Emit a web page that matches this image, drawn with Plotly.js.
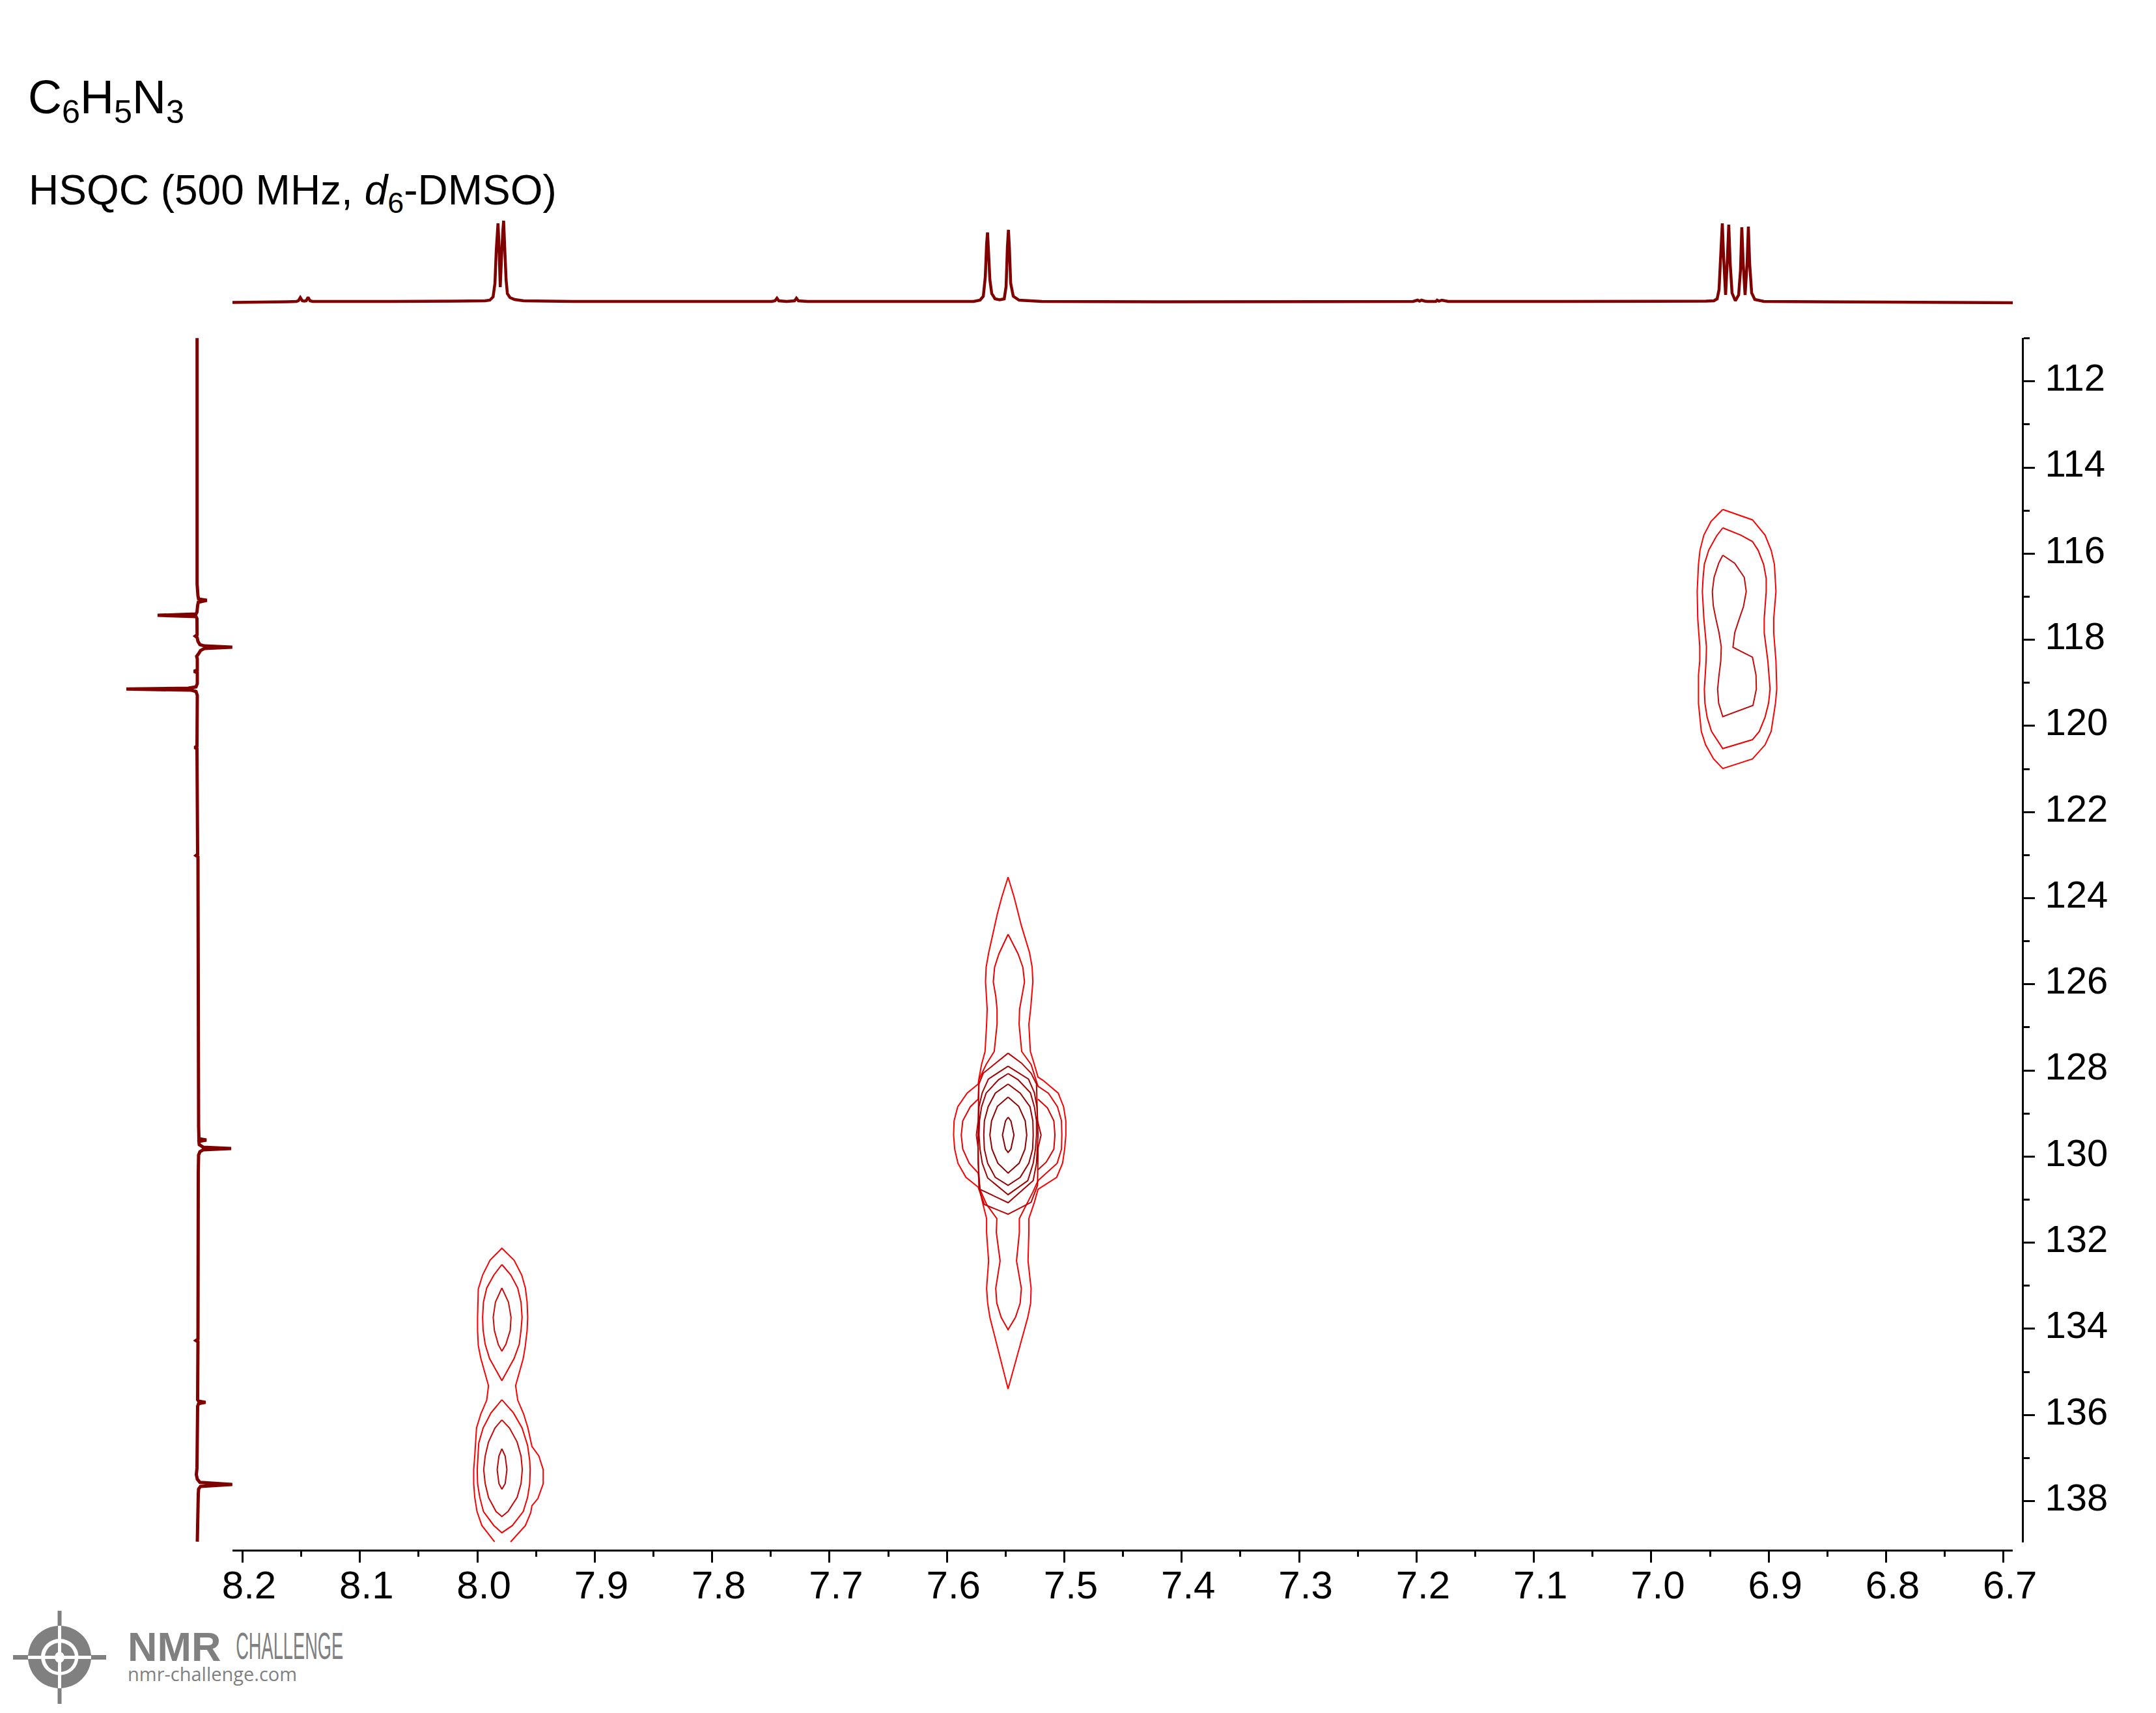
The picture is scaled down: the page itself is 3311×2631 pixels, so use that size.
<!DOCTYPE html>
<html><head><meta charset="utf-8">
<script src="https://cdn.plot.ly/plotly-3.0.1.min.js"></script>
<style>html,body{margin:0;padding:0;background:#fff}</style></head>
<body><div id="chart" style="width:3311px;height:2631px"></div>
<script>
// ---- 1H projection (top): chemical shift, relative intensity
const protonShift = [8.2087,8.1625,8.1541,8.1525,8.1508,8.1491,8.1475,8.1458,8.1442,8.1425,8.1403,8.0737,8.0183,7.9933,7.9894,7.9866,7.985,7.9839,7.9824,7.9816,7.9805,7.9794,7.9783,7.9776,7.9767,7.9755,7.9744,7.9722,7.9683,7.9606,7.9184,7.8519,7.7492,7.7465,7.7448,7.7432,7.7365,7.7298,7.7282,7.7265,7.7187,7.63,7.5773,7.5718,7.569,7.5673,7.5662,7.5654,7.5646,7.5634,7.5618,7.559,7.5551,7.5512,7.5496,7.5485,7.5476,7.5468,7.5457,7.5435,7.5385,7.5191,7.4082,7.2029,7.1991,7.1974,7.1957,7.193,7.1907,7.1835,7.1824,7.1808,7.1785,7.173,7.0754,6.9534,6.9467,6.9439,6.9423,6.9412,6.9395,6.9384,6.9367,6.9351,6.934,6.9328,6.9312,6.9284,6.9256,6.924,6.9229,6.9217,6.9201,6.9184,6.9173,6.9162,6.9145,6.9118,6.904,6.7981,6.6921];
const protonIntensity = [0.5,1.5,2,3,8,3,2.5,3,8.5,3,2,2,2.5,3,4,9,30,80,122,90,24,70,110,126,85,35,14,8,5,3,2,2,2,3,7,3,2,3,7,3,2,2,2,4,10,40,90,108,80,35,14,6,4.5,6,25,85,112,85,30,10,4,2,1.5,2,4,2.5,4,2.5,2,2,4,2.5,4,2,2,2.5,3,6,20,60,122,70,12,70,120,60,15,3,12,50,116,60,12,60,117,60,15,5,2,1,0];

// ---- 13C projection (left): chemical shift, relative intensity
const carbonShift = [110.992,116.706,116.978,117.054,117.084,117.129,117.205,117.356,117.401,117.432,117.462,117.507,117.885,117.915,117.946,118.036,118.112,118.142,118.172,118.203,118.248,118.323,118.384,118.444,118.701,118.732,118.762,119.019,119.094,119.125,119.144,119.17,119.2,119.291,120.47,120.501,120.531,122.979,123.01,123.04,129.298,129.586,129.616,129.646,129.722,129.782,129.812,129.843,129.888,129.964,130.357,134.242,134.272,134.302,135.648,135.678,135.708,135.738,135.799,137.235,137.386,137.492,137.567,137.613,137.658,137.719,137.84,138.943];
const carbonIntensity = [-1.3,-1.3,0,1,13.7,0.5,-0.5,-1.5,-3,-62,-3,-1.5,-1.3,-4,-1.3,0,3,10,52.7,10,4,1,-2,-1,-1,-6,-1,-1,-3,-15,-110,-10,-3,-1,-1.5,-5,-1.5,-0.5,-3,0,1,1.5,13,1.5,2,8,51,8,3,1,0.5,0,-3,0,-0.5,1,11.7,1,-0.5,-1.5,-2.5,-1,3,52.7,4,1,0.5,-1];

// ---- HSQC contours, peak near 6.93 / 118
const peakA1H = [6.9391,6.9138,6.9031,6.8979,6.8951,6.8938,6.8957,6.8957,6.8938,6.8931,6.8942,6.8979,6.9031,6.9138,6.9391,6.9469,6.9537,6.9574,6.9598,6.9598,6.9587,6.9587,6.9604,6.9609,6.9598,6.9585,6.9552,6.9491,6.9391];
const peakA1C = [114.973,115.215,115.568,115.92,116.248,116.878,117.508,117.835,118.49,119.145,119.473,120.128,120.44,120.768,120.99,120.768,120.44,120.128,119.473,118.818,118.49,118.163,117.508,116.878,116.248,115.92,115.568,115.25,114.973];
const peakA2H = [6.9391,6.9238,6.9138,6.909,6.9043,6.9021,6.9021,6.9038,6.9038,6.9007,6.8988,6.9001,6.9031,6.908,6.9138,6.9391,6.9487,6.9524,6.9543,6.9548,6.9533,6.953,6.9552,6.9565,6.9559,6.9548,6.9511,6.9445,6.9391];
const peakA2C = [115.401,115.568,115.719,115.92,116.248,116.575,116.878,117.508,117.835,118.49,119.145,119.473,119.8,120.128,120.319,120.526,120.128,119.8,119.473,119.145,118.49,118.163,117.508,116.878,116.575,116.248,115.92,115.593,115.401];
const peakA3H = [6.9391,6.9289,6.9208,6.9191,6.9215,6.9256,6.9289,6.9304,6.9138,6.9108,6.9105,6.9134,6.9391,6.9426,6.9435,6.9423,6.9408,6.9404,6.9423,6.945,6.9472,6.948,6.9465,6.9426,6.9391];
const peakA3C = [116.036,116.223,116.55,116.878,117.23,117.558,117.835,118.173,118.405,118.818,119.145,119.523,119.785,119.473,119.145,118.818,118.49,118.163,117.835,117.508,117.205,116.878,116.55,116.223,116.036];

// ---- HSQC contours, peak near 7.55 / 129.5
const spikeL1H = [7.5479,7.5427,7.5366,7.5296,7.5274,7.5268,7.5287,7.5302,7.5289,7.5255,7.5224,7.5181,7.5052,7.5006,7.4987,7.4987,7.4997,7.5015,7.5065,7.5224,7.5255,7.5302,7.5302,7.5309,7.5283,7.5287,7.5311,7.5479,7.5634,7.5653,7.5662,7.5645,7.5662,7.5662,7.569,7.5719,7.5734,7.5838,7.5906,7.5934,7.5943,7.5939,7.5908,7.5828,7.5734,7.5727,7.5705,7.5675,7.5662,7.5657,7.5671,7.5666,7.5644,7.557,7.5533,7.5479];
const spikeL1C = [123.513,123.982,124.637,125.267,125.605,125.947,126.577,126.93,127.56,127.862,128.154,128.23,128.527,128.845,129.172,129.5,129.827,130.155,130.482,130.76,131.062,131.44,131.767,132.422,133.062,133.405,133.733,135.395,133.733,133.405,133.062,132.422,131.767,131.44,131.137,130.81,130.709,130.482,130.155,129.827,129.5,129.172,128.845,128.527,128.316,128.19,127.862,127.56,126.93,126.577,125.947,125.605,125.267,124.36,123.982,123.513];
const spikeL2H = [7.5479,7.5394,7.5353,7.5339,7.5361,7.5381,7.5385,7.5363,7.5283,7.5224,7.5135,7.5058,7.5024,7.5021,7.5024,7.5061,7.5224,7.5265,7.5383,7.5383,7.5407,7.5366,7.5376,7.5416,7.5479,7.5538,7.5575,7.5584,7.5547,7.5579,7.5575,7.5662,7.5719,7.5734,7.581,7.5865,7.5878,7.5865,7.5801,7.5734,7.5727,7.5666,7.5597,7.5573,7.5573,7.5584,7.5605,7.5594,7.5557,7.5479];
const spikeL2C = [124.839,125.292,125.605,125.947,126.275,126.577,126.93,127.56,127.862,128.366,128.532,128.845,129.172,129.5,129.827,130.155,130.558,130.81,131.44,131.767,132.422,133.062,133.405,133.733,134.02,133.733,133.405,133.062,132.422,131.767,131.44,131.112,130.76,130.382,130.155,129.827,129.5,129.172,128.845,128.668,128.215,127.862,127.56,126.93,126.577,126.275,125.947,125.605,125.292,124.839];
const lobeH = [7.5224,7.5144,7.5089,7.508,7.5089,7.5154,7.5224];
const lobeC = [128.668,128.87,129.172,129.5,129.827,130.13,130.306];
const nest1H = [7.5479,7.5366,7.5283,7.5237,7.5228,7.5198,7.5224,7.5228,7.5283,7.5479,7.5681,7.5727,7.5734,7.5749,7.5734,7.5727,7.569,7.5479];
const nest1C = [127.6,127.827,128.064,128.316,129.172,129.5,129.802,130.669,131.062,131.339,131.112,130.76,129.802,129.5,129.172,128.316,128.064,127.6];
const nest2H = [7.5479,7.5305,7.5255,7.5233,7.5224,7.5237,7.5265,7.5479,7.5719,7.5734,7.5734,7.5727,7.5699,7.5647,7.5479];
const nest2C = [127.902,128.2,128.517,128.845,129.5,130.155,130.558,131.072,130.76,130.155,129.5,128.845,128.517,128.2,127.902];
const nest3H = [7.5479,7.5394,7.5289,7.5255,7.5237,7.5237,7.5246,7.5265,7.5311,7.5479,7.5653,7.5699,7.5718,7.5727,7.5723,7.5705,7.5666,7.556,7.5479];
const nest3C = [128.074,128.215,128.517,128.845,129.172,129.5,129.827,130.155,130.558,130.885,130.497,130.155,129.827,129.5,129.172,128.845,128.527,128.215,128.074];
const nest4H = [7.5479,7.5376,7.5292,7.5268,7.5265,7.527,7.5302,7.5376,7.5479,7.5588,7.5653,7.5681,7.5686,7.5681,7.5649,7.5588,7.5479];
const nest4C = [128.316,128.527,128.845,129.172,129.5,129.827,130.155,130.482,130.669,130.482,130.155,129.827,129.5,129.172,128.845,128.527,128.316];
const nest5H = [7.5479,7.5388,7.5333,7.532,7.5335,7.5385,7.5479,7.5566,7.5616,7.5634,7.562,7.557,7.5479];
const nest5C = [128.618,128.835,129.172,129.5,129.827,130.155,130.382,130.155,129.827,129.5,129.172,128.835,128.618];
const nest6H = [7.5479,7.5455,7.5429,7.5455,7.5479,7.5501,7.5527,7.5501,7.5479];
const nest6C = [129.087,129.172,129.5,129.827,129.903,129.827,129.5,129.172,129.087];

// ---- HSQC contours, peaks near 7.98 / 133.7 and 137.3
const peanutH = [7.9853,7.9961,8.0003,8.0022,8.0031,8.0031,8.0022,8.0007,7.997,7.992,7.9905,7.9905,7.997,7.9992,7.9998,7.9998,7.9992,7.9955,7.9892,7.9791,7.9687,7.9622,7.9591,7.9576,7.9571,7.9576,7.9591,7.9609,7.9674,7.9656,7.9606,7.9569,7.9535,7.9476,7.9439,7.9439,7.9484,7.9535,7.9545,7.9591,7.9717];
const peanutC = [138.948,138.57,138.243,137.915,137.595,137.27,136.953,136.303,135.975,135.658,135.32,135.32,134.69,134.388,134.035,133.733,133.078,132.75,132.407,132.13,132.407,132.75,133.052,133.38,133.733,134.035,134.388,134.69,135.32,135.658,135.975,136.303,136.731,136.953,137.27,137.595,137.94,138.107,138.268,138.57,138.948];
const upper2H = [7.9791,7.9715,7.9656,7.9628,7.9619,7.9628,7.9643,7.9687,7.9791,7.9896,7.9933,7.9951,7.9955,7.9948,7.992,7.9859,7.9791];
const upper2C = [132.508,132.75,133.052,133.38,133.733,134.035,134.362,134.69,135.204,134.69,134.362,134.035,133.733,133.38,133.052,132.75,132.508];
const upper3H = [7.9791,7.9735,7.9713,7.972,7.9757,7.9791,7.9822,7.9855,7.9865,7.9846,7.9791];
const upper3C = [133.052,133.38,133.733,134.035,134.362,134.519,134.362,134.035,133.733,133.38,133.052];
const lower1H = [7.9791,7.9693,7.9619,7.9572,7.9554,7.955,7.9554,7.9572,7.9609,7.9702,7.9791,7.9859,7.9948,7.9979,7.9998,8.0001,7.9988,7.9951,7.9883,7.9791];
const lower1C = [135.648,135.95,136.303,136.706,137.058,137.27,137.595,137.915,138.243,138.57,138.736,138.57,138.243,137.915,137.595,137.27,136.655,136.303,135.95,135.648];
const lower2H = [7.9791,7.9726,7.9661,7.9628,7.9617,7.9628,7.9661,7.9739,7.9791,7.9841,7.9905,7.9933,7.9946,7.9933,7.9905,7.985,7.9791];
const lower2C = [136.116,136.303,136.63,136.953,137.27,137.595,137.915,138.243,138.358,138.243,137.915,137.595,137.27,136.953,136.63,136.303,136.116];
const lower3H = [7.9791,7.9763,7.9748,7.9763,7.9791,7.9816,7.9831,7.9816,7.9791];
const lower3C = [136.786,136.953,137.27,137.595,137.724,137.595,137.27,136.953,136.786];

// ---- Axis ticks and texts
const shiftTicks = [8.2,8.1,8.0,7.9,7.8,7.7,7.6,7.5,7.4,7.3,7.2,7.1,7.0,6.9,6.8,6.7];
const shiftLabels = ['8.2','8.1','8.0','7.9','7.8','7.7','7.6','7.5','7.4','7.3','7.2','7.1','7.0','6.9','6.8','6.7'];
const formula = 'C<sub>6</sub>H<sub>5</sub>N<sub>3</sub>';
const experiment = 'HSQC (500 MHz, <i>d</i><sub>6</sub>-DMSO)';

const W = 3311, H = 2631;
const fx = p => p / W, fy = p => 1 - p / H;
const FONT = '"Liberation Sans", Arial, sans-serif';
const DARK = '#800000';

const contours = [
  [peakA1H,peakA1C,'#ff0000'],[peakA2H,peakA2C,'#f20000'],[peakA3H,peakA3C,'#c40a0a'],
  [spikeL1H,spikeL1C,'#ff0000'],[spikeL2H,spikeL2C,'#ec0000'],[lobeH,lobeC,'#d80000'],
  [nest1H,nest1C,'#c00000'],[nest2H,nest2C,'#a80000'],[nest3H,nest3C,'#a00000'],
  [nest4H,nest4C,'#980000'],[nest5H,nest5C,'#900000'],[nest6H,nest6C,'#880000'],
  [peanutH,peanutC,'#ff0000'],[upper2H,upper2C,'#f00000'],[upper3H,upper3C,'#cc0a0a'],
  [lower1H,lower1C,'#f40000'],[lower2H,lower2C,'#cc0505'],[lower3H,lower3C,'#b80808']
];
const traces = contours.map(c => ({x:c[0],y:c[1],type:'scatter',mode:'lines',xaxis:'x',yaxis:'y',
  line:{color:c[2],width:2,simplify:false},hoverinfo:'skip'}));
traces.push({x:protonShift,y:protonIntensity,type:'scatter',mode:'lines',xaxis:'x',yaxis:'y2',
  line:{color:DARK,width:4.5,simplify:false},hoverinfo:'skip'});
traces.push({x:carbonIntensity,y:carbonShift,type:'scatter',mode:'lines',xaxis:'x3',yaxis:'y',
  line:{color:DARK,width:5,simplify:false},hoverinfo:'skip'});

const GRAY = '#808080';
const rect = (x0,y0,x1,y1,c) => ({type:'rect',xref:'paper',yref:'paper',x0:fx(x0),x1:fx(x1),y0:fy(y0),y1:fy(y1),fillcolor:c,line:{width:0},layer:'above'});
const oval = (x0,y0,x1,y1,c) => ({type:'circle',xref:'paper',yref:'paper',x0:fx(x0),x1:fx(x1),y0:fy(y0),y1:fy(y1),fillcolor:c,line:{width:0},layer:'above'});
const logoShapes = [
  rect(88.5,2474,94.5,2617,GRAY), rect(20,2542,163,2549,GRAY),
  oval(43,2497,140,2593,GRAY), oval(63,2517,120.5,2573,'#fff'), oval(69,2523,115,2568,GRAY),
  rect(89,2497,94,2593,'#fff'), rect(43,2543,140,2548,'#fff'),
  oval(84,2537,99,2554,'#fff')
];

const layout = {
  width:W,height:H,margin:{l:0,r:0,t:0,b:0},paper_bgcolor:'#fff',plot_bgcolor:'rgba(0,0,0,0)',showlegend:false,
  font:{family:FONT,color:'#000'},
  xaxis:{domain:[fx(357),fx(3091)],range:[8.2086,6.6921],anchor:'free',position:(H-2381)/H,
    tickmode:'array',tickvals:shiftTicks,ticktext:shiftLabels,ticks:'outside',ticklen:17,tickwidth:3,tickcolor:'#000',
    showline:true,linecolor:'#000',linewidth:3,showgrid:false,zeroline:false,
    tickfont:{family:FONT,size:60,color:'#000'},ticklabelshift:-10,ticklabelstandoff:-17,
    minor:{dtick:0.05,ticks:'outside',ticklen:8,tickwidth:3,tickcolor:'#000',showgrid:false}},
  yaxis:{domain:[fy(2369),fy(519)],range:[138.96,110.99],anchor:'free',position:3106/W,side:'right',
    tick0:0,dtick:2,ticks:'outside',ticklen:17,tickwidth:3,tickcolor:'#000',
    showline:true,linecolor:'#000',linewidth:3,showgrid:false,zeroline:false,
    tickfont:{family:FONT,size:58,color:'#000'},ticklabelshift:6,ticklabelstandoff:4,
    minor:{dtick:1,ticks:'outside',ticklen:9,tickwidth:3,tickcolor:'#000',showgrid:false}},
  yaxis2:{domain:[fy(475),fy(330)],range:[-10,135],anchor:'x',visible:false},
  xaxis3:{domain:[fx(185),fx(365)],range:[-119,61],anchor:'y',visible:false},
  shapes:logoShapes,
  annotations:[
    {text:formula,xref:'paper',yref:'paper',x:fx(41),y:fy(202),xanchor:'left',yanchor:'bottom',showarrow:false,align:'left',
      font:{family:FONT,size:72,color:'#000'}},
    {text:experiment,xref:'paper',yref:'paper',x:fx(42),y:fy(338),xanchor:'left',yanchor:'bottom',showarrow:false,align:'left',
      font:{family:FONT,size:64,color:'#000'}},
    {text:'NMR',xref:'paper',yref:'paper',x:fx(194),y:fy(2566),xanchor:'left',yanchor:'bottom',showarrow:false,
      font:{family:'"Liberation Sans"',size:63,color:GRAY,weight:700}},
    {text:'CHALLENGE',xref:'paper',yref:'paper',x:fx(267),y:fy(2562),xanchor:'left',yanchor:'bottom',showarrow:false,
      font:{family:'"Liberation Sans"',size:58,color:GRAY}},
    {text:'nmr-challenge.com',xref:'paper',yref:'paper',x:fx(194),y:fy(2592),xanchor:'left',yanchor:'bottom',showarrow:false,
      font:{family:'"Open Sans"',size:29,color:GRAY}}
  ]
};
Plotly.newPlot('chart',traces,layout,{displayModeBar:false,staticPlot:true}).then(() => {
  document.querySelectorAll('.annotation-text').forEach(t => {
    if (t.textContent === 'CHALLENGE') { t.setAttribute('textLength','165'); t.setAttribute('lengthAdjust','spacingAndGlyphs'); }
  });
});
</script></body></html>
